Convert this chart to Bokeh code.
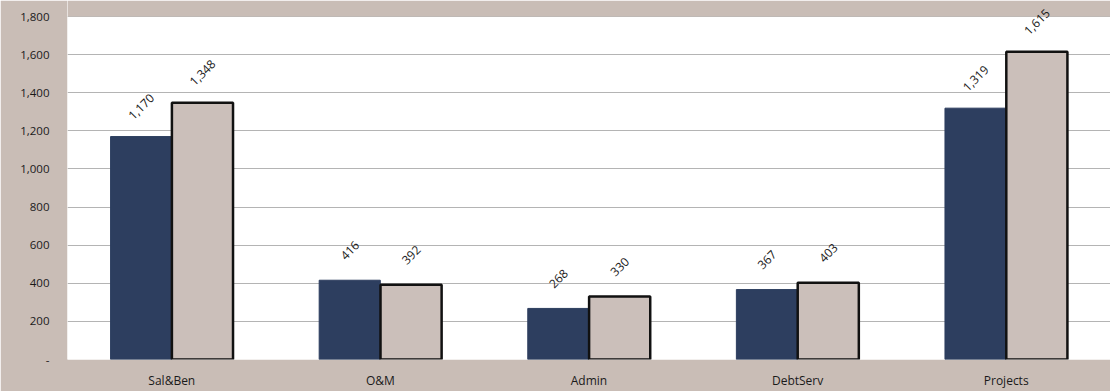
from bokeh.plotting import figure
from bokeh.models import ColumnDataSource, FactorRange, Range1d, NumeralTickFormatter, FixedTicker, Label, BoxAnnotation
from bokeh.transform import dodge
from bokeh.embed import file_html
from bokeh.resources import INLINE

categories = ["Sal&Ben", "O&M", "Admin", "DebtServ", "Projects"]
series_a = [1170, 416, 268, 367, 1319]
series_b = [1348, 392, 330, 403, 1615]
y_ticks = [0, 200, 400, 600, 800, 1000, 1200, 1400, 1600, 1800]

src = ColumnDataSource(dict(cat=categories, a=series_a, b=series_b))

BG = "#c9bdb6"
NAVY = "#2d3e5f"
LIGHT = "#cbbfba"
FONT = "Open Sans"

p = figure(x_range=FactorRange(factors=categories, range_padding=0),
           y_range=Range1d(0, 1884),
           width=1110, height=391, output_backend="svg", toolbar_location=None,
           min_border_left=67, min_border_right=0, min_border_top=0, min_border_bottom=32)
p.border_fill_color = BG
p.background_fill_color = "white"
p.outline_line_color = None

# beige band above the 1,800 limit so the plot area ends there, like the original
p.add_layout(BoxAnnotation(bottom=1800, fill_color=BG, fill_alpha=1, line_color=None))

w = 0.293
off = 0.147
p.vbar(x=dodge("cat", -off, range=p.x_range), top="a", width=w, source=src,
       fill_color=NAVY, line_color=NAVY, line_width=1)
p.vbar(x=dodge("cat", off, range=p.x_range), top="b", width=w, source=src,
       fill_color=LIGHT, line_color="#111111", line_width=2.5)

for i, c in enumerate(categories):
    for v, d in ((series_a[i], -off), (series_b[i], off)):
        p.add_layout(Label(x=i + 0.5 + d, y=v, text=f"{v:,}", angle=0.785,
                           text_align="center", text_baseline="middle", y_offset=30,
                           text_font=FONT, text_font_size="12px", text_color="#1a1a1a"))

p.yaxis.ticker = FixedTicker(ticks=y_ticks)
p.yaxis.formatter = NumeralTickFormatter(format="0,0")
p.yaxis.major_label_overrides = {0: "-"}
p.ygrid.ticker = FixedTicker(ticks=y_ticks)
p.ygrid.grid_line_color = "#b4b4b4"
p.xgrid.grid_line_color = None

for ax in (p.xaxis, p.yaxis):
    ax.axis_line_color = None
    ax.major_tick_line_color = None
    ax.minor_tick_line_color = None
    ax.major_label_text_font = FONT
    ax.major_label_text_color = "#1a1a1a"
p.yaxis.major_label_text_font_size = "11.5px"
p.xaxis.major_label_text_font_size = "12px"
p.yaxis.major_label_standoff = 12
p.xaxis.major_label_standoff = 6

open("out.html", "w").write(file_html(p, INLINE))
